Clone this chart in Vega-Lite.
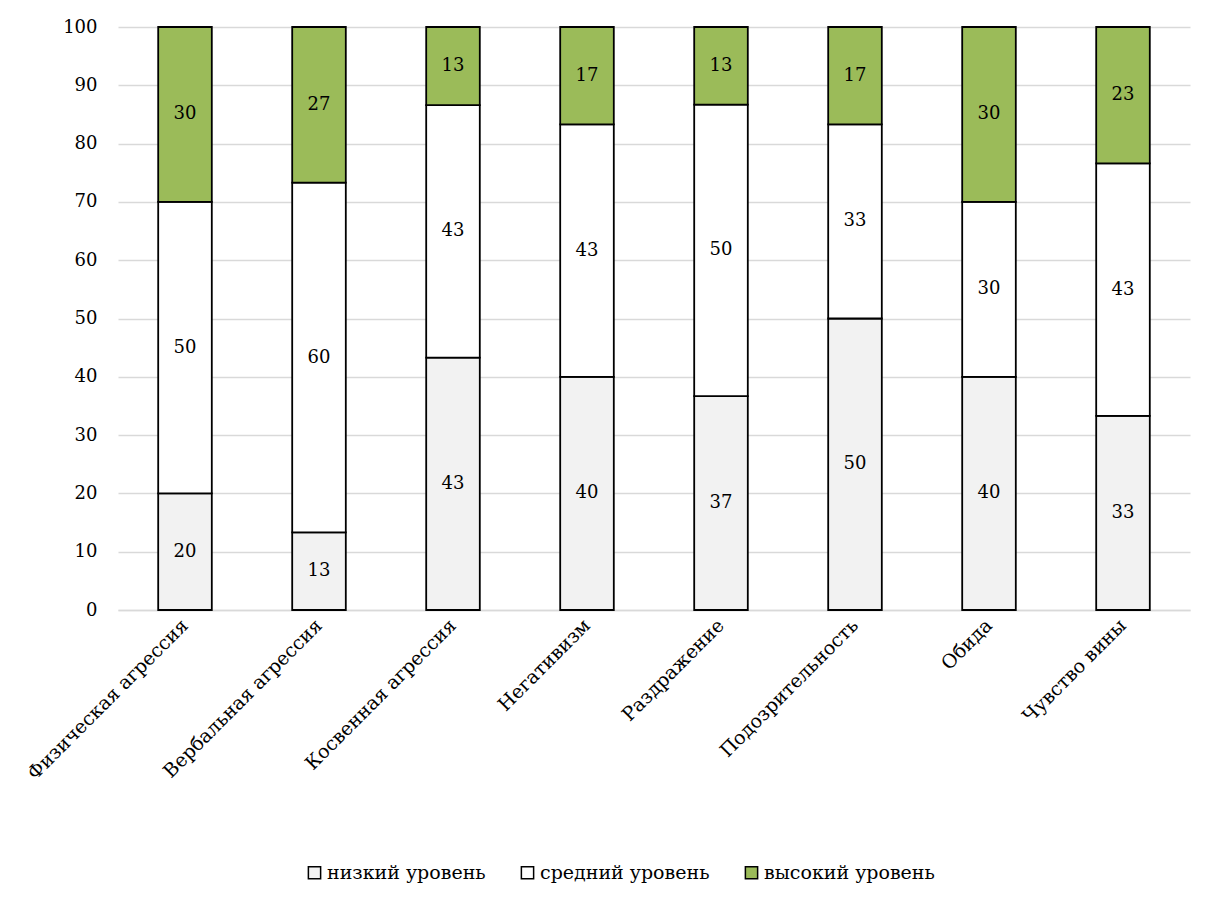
{
  "$schema": "https://vega.github.io/schema/vega-lite/v6.json",
  "width": 1072,
  "height": 583,
  "autosize": {"type": "none"},
  "padding": {"left": 118, "top": 27, "right": 19, "bottom": 291},
  "background": "white",
  "config": {
    "font": "DejaVu Serif",
    "view": {"stroke": null},
    "axis": {"labelFont": "DejaVu Serif", "labelColor": "#000000"},
    "legend": {"labelFont": "DejaVu Serif"},
    "text": {"font": "DejaVu Serif"}
  },
  "data": {
    "values": [
      {"cat": "Физическая агрессия", "level": "низкий уровень", "ord": 1, "value": 20},
      {"cat": "Физическая агрессия", "level": "средний уровень", "ord": 2, "value": 50},
      {"cat": "Физическая агрессия", "level": "высокий уровень", "ord": 3, "value": 30},
      {"cat": "Вербальная агрессия", "level": "низкий уровень", "ord": 1, "value": 13.3},
      {"cat": "Вербальная агрессия", "level": "средний уровень", "ord": 2, "value": 60},
      {"cat": "Вербальная агрессия", "level": "высокий уровень", "ord": 3, "value": 26.7},
      {"cat": "Косвенная агрессия", "level": "низкий уровень", "ord": 1, "value": 43.3},
      {"cat": "Косвенная агрессия", "level": "средний уровень", "ord": 2, "value": 43.3},
      {"cat": "Косвенная агрессия", "level": "высокий уровень", "ord": 3, "value": 13.4},
      {"cat": "Негативизм", "level": "низкий уровень", "ord": 1, "value": 40},
      {"cat": "Негативизм", "level": "средний уровень", "ord": 2, "value": 43.3},
      {"cat": "Негативизм", "level": "высокий уровень", "ord": 3, "value": 16.7},
      {"cat": "Раздражение", "level": "низкий уровень", "ord": 1, "value": 36.7},
      {"cat": "Раздражение", "level": "средний уровень", "ord": 2, "value": 50},
      {"cat": "Раздражение", "level": "высокий уровень", "ord": 3, "value": 13.3},
      {"cat": "Подозрительность", "level": "низкий уровень", "ord": 1, "value": 50},
      {"cat": "Подозрительность", "level": "средний уровень", "ord": 2, "value": 33.3},
      {"cat": "Подозрительность", "level": "высокий уровень", "ord": 3, "value": 16.7},
      {"cat": "Обида", "level": "низкий уровень", "ord": 1, "value": 40},
      {"cat": "Обида", "level": "средний уровень", "ord": 2, "value": 30},
      {"cat": "Обида", "level": "высокий уровень", "ord": 3, "value": 30},
      {"cat": "Чувство вины", "level": "низкий уровень", "ord": 1, "value": 33.3},
      {"cat": "Чувство вины", "level": "средний уровень", "ord": 2, "value": 43.3},
      {"cat": "Чувство вины", "level": "высокий уровень", "ord": 3, "value": 23.4}
    ]
  },
  "transform": [
    {"stack": "value", "groupby": ["cat"], "sort": [{"field": "ord", "order": "ascending"}], "as": ["y0", "y1"]},
    {"calculate": "(datum.y0 + datum.y1) / 2", "as": "mid"}
  ],
  "encoding": {
    "x": {
      "field": "cat",
      "type": "nominal",
      "sort": null,
      "title": null,
      "scale": {"paddingInner": 0.6, "paddingOuter": 0.3},
      "axis": {
        "labelAngle": -45,
        "labelAlign": "right",
        "labelBaseline": "middle",
        "labelFontSize": 19,
        "labelPadding": 12,
        "labelLimit": 400,
        "ticks": false,
        "domainColor": "#d9d9d9",
        "domainWidth": 1.5,
        "grid": false
      }
    }
  },
  "layer": [
    {
      "mark": {"type": "bar", "stroke": "#000000", "strokeWidth": 1.8},
      "encoding": {
        "y": {
          "field": "y0",
          "type": "quantitative",
          "title": null,
          "scale": {"domain": [0, 100], "nice": false},
          "axis": {
            "values": [0, 10, 20, 30, 40, 50, 60, 70, 80, 90, 100],
            "labelFontSize": 18,
            "labelPadding": 21,
            "ticks": false,
            "domain": false,
            "gridColor": "#d9d9d9",
            "gridWidth": 1.5
          }
        },
        "y2": {"field": "y1"},
        "color": {
          "field": "level",
          "type": "nominal",
          "scale": {
            "domain": ["низкий уровень", "средний уровень", "высокий уровень"],
            "range": ["#f2f2f2", "#ffffff", "#9bbb59"]
          },
          "legend": {
            "title": null,
            "orient": "none",
            "direction": "horizontal",
            "legendX": 187,
            "legendY": 836,
            "symbolType": "square",
            "symbolSize": 150,
            "symbolStrokeColor": "#000000",
            "symbolStrokeWidth": 1.5,
            "labelFontSize": 19,
            "labelLimit": 0,
            "labelColor": "#000000",
            "labelOffset": 3,
            "columnPadding": 32,
            "padding": 0
          }
        }
      }
    },
    {
      "mark": {"type": "text", "fontSize": 18, "color": "#000000", "baseline": "middle", "align": "center", "font": "DejaVu Serif"},
      "encoding": {
        "y": {"field": "mid", "type": "quantitative"},
        "text": {"field": "value", "type": "quantitative", "format": ".0f"}
      }
    }
  ]
}
